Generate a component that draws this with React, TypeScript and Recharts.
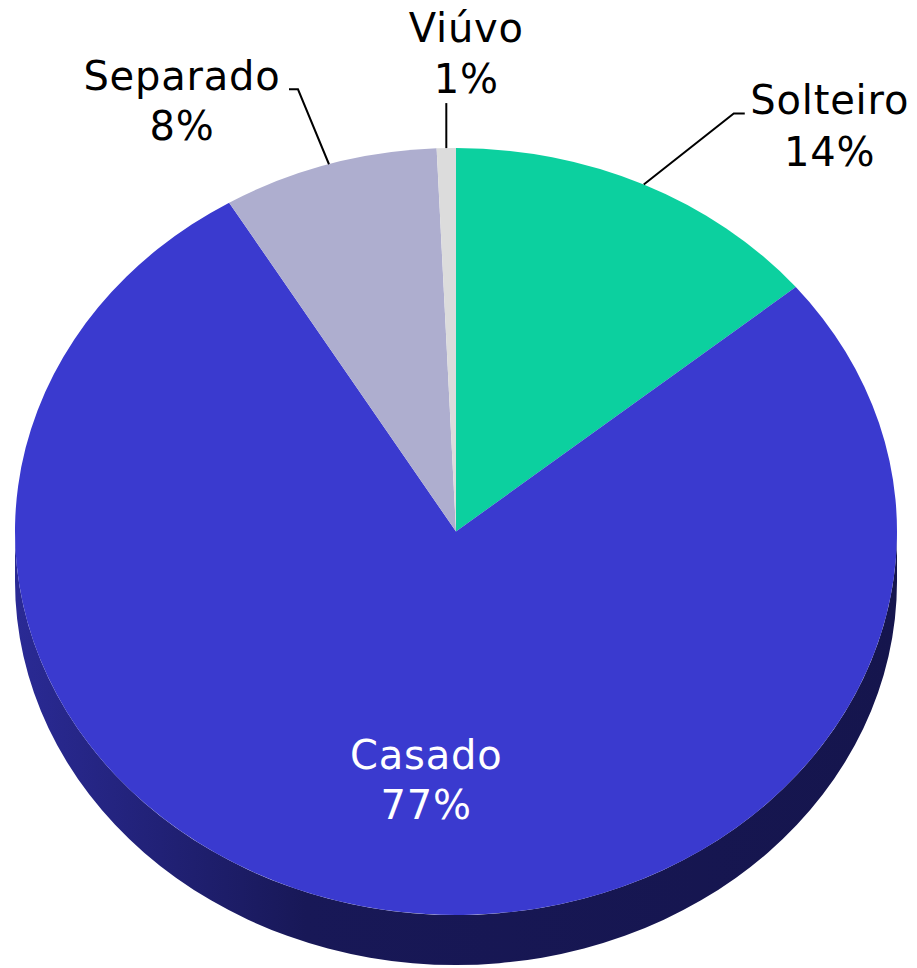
import { PieChart, Pie, Cell } from 'recharts'

const categories = ['Solteiro', 'Casado', 'Separado', 'Viúvo']
const shares = [14.0, 77.4, 7.9, 0.7]
const colors = ['#0cd09f', '#3a3acf', '#aeaecf', '#dcdcdc']

const data = categories.map((name, i) => ({ name, value: shares[i] }))

const TILT = 383.5 / 441
const DEPTH = 50
const FONT = { fontFamily: '"DejaVu Sans", Verdana, sans-serif', fontSize: 40, letterSpacing: 0.8 }

const rad = (d: number) => (d * Math.PI) / 180
const onEllipse = (cx: number, cy: number, rx: number, ry: number, deg: number) =>
  [cx + rx * Math.cos(rad(deg)), cy - ry * Math.sin(rad(deg))]

function shade(hex: string, k: number) {
  const n = parseInt(hex.slice(1), 16)
  const ch = [(n >> 16) & 255, (n >> 8) & 255, n & 255].map((c) => Math.round(c * k))
  return `rgb(${ch.join(',')})`
}

// top face is an ellipse, plus a side wall wherever the slice reaches the front half
function Slice3D(props: any) {
  const { cx, cy, outerRadius, startAngle, endAngle, fill, index } = props
  const rx = outerRadius
  const ry = outerRadius * TILT
  const hi = Math.max(startAngle, endAngle)
  const lo = Math.min(startAngle, endAngle)
  const [x0, y0] = onEllipse(cx, cy, rx, ry, hi)
  const [x1, y1] = onEllipse(cx, cy, rx, ry, lo)
  const large = hi - lo > 180 ? 1 : 0
  const top = `M${cx},${cy} L${x0},${y0} A${rx},${ry} 0 ${large} 1 ${x1},${y1} Z`

  const walls: string[] = []
  for (let k = -2; k <= 2; k++) {
    const a = Math.min(hi, 360 * k)
    const b = Math.max(lo, 360 * k - 180)
    if (a > b) {
      const [ax, ay] = onEllipse(cx, cy, rx, ry, a)
      const [bx, by] = onEllipse(cx, cy, rx, ry, b)
      walls.push(
        `M${ax},${ay} A${rx},${ry} 0 0 1 ${bx},${by} L${bx},${by + DEPTH} A${rx},${ry} 0 0 0 ${ax},${ay + DEPTH} Z`
      )
    }
  }
  const gid = `wall-${index}`
  return (
    <g>
      <defs>
        <linearGradient id={gid} gradientUnits="userSpaceOnUse" x1={cx - rx} y1={0} x2={cx + rx} y2={0}>
          <stop offset="0" stopColor={shade(fill, 0.72)} />
          <stop offset="0.33" stopColor={shade(fill, 0.42)} />
          <stop offset="1" stopColor={shade(fill, 0.37)} />
        </linearGradient>
      </defs>
      {walls.map((d, i) => (
        <path key={i} d={d} fill={`url(#${gid})`} />
      ))}
      <path d={top} fill={fill} />
    </g>
  )
}

function renderLabel(props: any) {
  const { cx, cy, midAngle, outerRadius, percent, name } = props
  const rx = outerRadius
  const ry = outerRadius * TILT
  const [ex, ey] = onEllipse(cx, cy, rx, ry, midAngle)
  const pct = `${Math.round(percent * 100)}%`
  const c = Math.cos(rad(midAngle))

  if (percent > 0.5) {
    const tx = cx + (ex - cx) * 0.4
    const ty = cy + (ey - cy) * 0.66
    return (
      <g>
        <text x={tx} y={ty - 12} textAnchor="middle" fill="#fff" style={FONT}>{name}</text>
        <text x={tx} y={ty + 38} textAnchor="middle" fill="#fff" style={FONT}>{pct}</text>
      </g>
    )
  }
  if (Math.abs(c) < 0.1) {
    return (
      <g>
        <path d={`M${ex},${ey} L${ex},${ey - 45}`} stroke="#000" strokeWidth={2} fill="none" />
        <text x={ex + 20} y={ey - 106} textAnchor="middle" fill="#000" style={FONT}>{name}</text>
        <text x={ex + 20} y={ey - 55} textAnchor="middle" fill="#000" style={FONT}>{pct}</text>
      </g>
    )
  }
  if (c > 0) {
    return (
      <g>
        <path d={`M${ex},${ey} L${ex + 90},${ey - 71} L${ex + 101},${ey - 71}`} stroke="#000" strokeWidth={2} fill="none" />
        <text x={ex + 186} y={ey - 70} textAnchor="middle" fill="#000" style={FONT}>{name}</text>
        <text x={ex + 186} y={ey - 18} textAnchor="middle" fill="#000" style={FONT}>{pct}</text>
      </g>
    )
  }
  return (
    <g>
      <path d={`M${ex},${ey} L${ex - 31},${ey - 75} L${ex - 40},${ey - 75}`} stroke="#000" strokeWidth={2} fill="none" />
      <text x={ex - 147} y={ey - 74} textAnchor="middle" fill="#000" style={FONT}>{name}</text>
      <text x={ex - 147} y={ey - 24} textAnchor="middle" fill="#000" style={FONT}>{pct}</text>
    </g>
  )
}

export default function App() {
  return (
    <div style={{ position: 'absolute', left: 0, top: 0, background: '#fff' }}>
      <PieChart width={917} height={968} margin={{ top: 0, right: 0, bottom: 0, left: 0 }}>
        <Pie
          data={data}
          dataKey="value"
          nameKey="name"
          cx={456}
          cy={531.5}
          outerRadius={441}
          startAngle={90}
          endAngle={-270}
          stroke="none"
          shape={Slice3D}
          activeShape={Slice3D}
          inactiveShape={Slice3D}
          label={renderLabel}
          labelLine={false}
          isAnimationActive={false}
        >
          {data.map((d, i) => (
            <Cell key={d.name} fill={colors[i]} />
          ))}
        </Pie>
      </PieChart>
    </div>
  )
}
